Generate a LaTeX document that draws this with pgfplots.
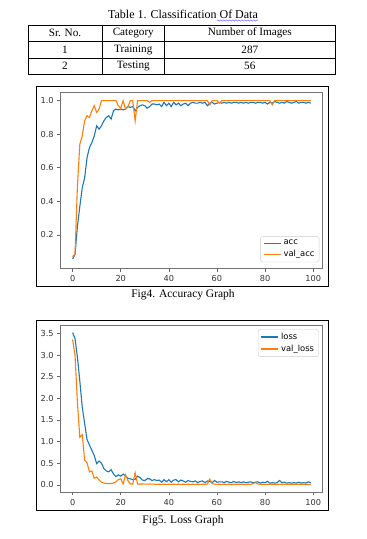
\documentclass[border=0pt]{standalone}
\usepackage{fontspec}
\setmainfont{Liberation Serif}
\newfontfamily\djv{DejaVu Sans}
\usepackage{pgfplots}
\usepackage{pgfplotstable}
\pgfplotsset{compat=1.18}
\usetikzlibrary{decorations.pathmorphing}
\definecolor{mplblue}{HTML}{1F77B4}
\definecolor{mplorange}{HTML}{FF7F0E}

\pgfplotstableread{
epoch acc val
0 0.057 0.070
1 0.083 0.085
2 0.25 0.49
3 0.37 0.74
4 0.48 0.79
5 0.54 0.88
6 0.66 0.91
7 0.72 0.90
8 0.75 0.94
9 0.79 0.97
10 0.85 0.93
11 0.83 0.95
12 0.85 1.0
13 0.88 1.0
14 0.90 1.0
15 0.91 1.0
16 0.89 1.0
17 0.94 1.0
18 0.95 1.0
19 0.945 0.97
20 0.95 0.955
21 0.945 1.0
22 0.95 0.95
23 0.965 0.965
24 0.96 1.0
25 0.965 1.0
26 0.94 0.88
27 0.96 1.0
28 0.97 1.0
29 0.975 1.0
30 0.97 1.0
31 0.955 1.0
32 0.965 0.99
33 0.98 1.0
34 0.98 1.0
35 0.975 1.0
36 0.98 1.0
37 0.965 1.0
38 0.99 1.0
39 0.97 1.0
40 0.985 1.0
41 0.965 1.0
42 0.99 1.0
43 0.975 1.0
44 0.985 1.0
45 0.97 1.0
46 0.98 1.0
47 0.985 1.0
48 0.97 1.0
49 0.985 1.0
50 0.99 1.0
51 0.985 1.0
52 0.985 1.0
53 0.99 1.0
54 0.985 1.0
55 0.99 1.0
56 0.97 1.0
57 0.985 0.976
58 0.99 1.0
59 0.98 1.0
60 0.985 1.0
61 0.99 0.985
62 0.985 1.0
63 0.99 1.0
64 0.985 1.0
65 0.99 1.0
66 0.985 1.0
67 0.99 1.0
68 0.99 1.0
69 0.985 1.0
70 0.99 1.0
71 0.985 1.0
72 0.99 1.0
73 0.985 1.0
74 0.99 1.0
75 0.99 1.0
76 0.985 1.0
77 0.99 1.0
78 0.99 1.0
79 0.985 1.0
80 0.99 1.0
81 0.98 1.0
82 0.99 1.0
83 0.985 0.976
84 0.995 1.0
85 0.99 1.0
86 0.985 1.0
87 0.99 1.0
88 0.985 1.0
89 0.995 1.0
90 0.99 1.0
91 0.985 1.0
92 0.99 1.0
93 0.995 1.0
94 0.985 1.0
95 0.99 1.0
96 0.99 1.0
97 0.985 1.0
98 0.99 1.0
99 0.985 1.0
}\acctable

\pgfplotstableread{
epoch loss val
0 3.52 3.36
1 3.38 3.00
2 2.95 1.90
3 2.40 1.10
4 1.80 1.16
5 1.42 0.57
6 1.05 0.51
7 0.92 0.30
8 0.80 0.32
9 0.68 0.15
10 0.49 0.18
11 0.55 0.11
12 0.50 0.06
13 0.38 0.04
14 0.32 0.03
15 0.30 0.03
16 0.35 0.03
17 0.25 0.04
18 0.19 0.07
19 0.23 0.12
20 0.20 0.14
21 0.25 0.02
22 0.21 0.23
23 0.15 0.10
24 0.14 0.02
25 0.12 0.02
26 0.13 0.28
27 0.20 0.02
28 0.17 0.02
29 0.11 0.02
30 0.10 0.015
31 0.14 0.015
32 0.14 0.02
33 0.10 0.015
34 0.12 0.015
35 0.10 0.01
36 0.11 0.015
37 0.06 0.01
38 0.12 0.015
39 0.07 0.01
40 0.12 0.015
41 0.06 0.01
42 0.11 0.015
43 0.12 0.01
44 0.07 0.015
45 0.11 0.01
46 0.09 0.015
47 0.06 0.01
48 0.10 0.015
49 0.08 0.01
50 0.07 0.015
51 0.09 0.01
52 0.05 0.015
53 0.08 0.01
54 0.09 0.015
55 0.05 0.01
56 0.09 0.02
57 0.08 0.13
58 0.05 0.03
59 0.10 0.015
60 0.06 0.01
61 0.07 0.015
62 0.07 0.01
63 0.05 0.015
64 0.08 0.01
65 0.06 0.015
66 0.05 0.01
67 0.08 0.015
68 0.05 0.01
69 0.07 0.015
70 0.05 0.01
71 0.07 0.015
72 0.05 0.01
73 0.06 0.015
74 0.07 0.01
75 0.05 0.03
76 0.06 0.05
77 0.07 0.02
78 0.04 0.01
79 0.06 0.015
80 0.05 0.01
81 0.08 0.015
82 0.04 0.01
83 0.05 0.015
84 0.04 0.01
85 0.05 0.015
86 0.10 0.01
87 0.05 0.015
88 0.06 0.01
89 0.04 0.015
90 0.05 0.01
91 0.04 0.015
92 0.05 0.01
93 0.04 0.015
94 0.06 0.01
95 0.04 0.015
96 0.05 0.01
97 0.04 0.015
98 0.07 0.01
99 0.05 0.015
}\losstable

\pgfplotsset{
  mpl/.style={
    scale only axis,
    width=262pt,
    xmin=-4.95, xmax=103.95,
    xtick={0,20,40,60,80,100},
    axis line style={black!55, line width=0.8pt},
    tick style={black!60, line width=0.6pt},
    tick align=outside,
    major tick length=3.5pt,
    tick pos=left,
    ticklabel style={font=\djv\fontsize{8.2}{9}\selectfont, text=black!80},
    /pgf/number format/assume math mode=true,
    yticklabel style={/pgf/number format/.cd, fixed, fixed zerofill, precision=1},
    legend cell align=left,
    legend style={draw=black!20, rounded corners=2pt, fill=white,
      font=\djv\fontsize{8.4}{9.5}\selectfont,
      inner xsep=2.5pt, inner ysep=1.5pt, row sep=0.3pt},
    legend image post style={line width=1.3pt},
    every axis plot/.append style={line width=1.1pt, no markers},
  }
}

\begin{document}
\begin{tikzpicture}[x=1pt,y=1pt]
\fill[white] (0,0) rectangle (367,539);
\path[use as bounding box] (0,0) rectangle (367,539);

% Table
\node[font=\fontsize{12}{14}\selectfont] at (183,525) {Table 1. Classification Of Data};
\draw[blue!70, line width=0.4pt, decorate, decoration={snake, amplitude=0.7pt, segment length=3pt}] (217,518.5) -- (258,518.5);
\begin{scope}[line width=0.6pt]
\draw (28,514) rectangle (335,465);
\draw (28,497.5) -- (335,497.5);
\draw (28,481) -- (335,481);
\draw (102,514) -- (102,465);
\draw (164.5,514) -- (164.5,465);
\end{scope}
\begin{scope}[font=\fontsize{11.2}{13}\selectfont]
\node at (65,505.8) {Sr. No.};
\node at (133.3,505.8) {Category};
\node at (249.8,505.8) {Number of Images};
\node at (65,489.3) {1};
\node at (133.3,489.3) {Training};
\node at (249.8,489.3) {287};
\node at (65,472.8) {2};
\node at (133.3,472.8) {Testing};
\node at (249.8,472.8) {56};
\end{scope}

% Frames and captions
\draw[line width=0.8pt] (36,453) rectangle (328,253);
\draw[line width=0.8pt] (36,219) rectangle (328,29);
\node[font=\fontsize{11.5}{13}\selectfont] at (183,244) {Fig4. Accuracy Graph};
\node[font=\fontsize{11.5}{13}\selectfont] at (183,18.5) {Fig5. Loss Graph};

% Accuracy
\begin{axis}[mpl,
  at={(60.7pt,271pt)}, anchor=south west,
  height=175.3pt,
  ymin=0.0025, ymax=1.0475,
  ytick={0.2,0.4,0.6,0.8,1.0},
  legend style={at={(1,0)}, anchor=south east, xshift=-3.4pt, yshift=5.8pt},
]
\addplot[mplblue] table[x=epoch, y=acc] {\acctable};
\addlegendentry{acc}
\addplot[mplorange] table[x=epoch, y=val] {\acctable};
\addlegendentry{val\_acc}
\end{axis}

% Loss
\begin{axis}[mpl,
  at={(60.7pt,47pt)}, anchor=south west,
  height=167pt,
  ymin=-0.1655, ymax=3.6955,
  ytick={0,0.5,1.0,1.5,2.0,2.5,3.0,3.5},
  legend style={at={(1,1)}, anchor=north east, xshift=-4pt, yshift=-4.3pt},
]
\addplot[mplblue] table[x=epoch, y=loss] {\losstable};
\addlegendentry{loss}
\addplot[mplorange] table[x=epoch, y=val] {\losstable};
\addlegendentry{val\_loss}
\end{axis}
\end{tikzpicture}
\end{document}
